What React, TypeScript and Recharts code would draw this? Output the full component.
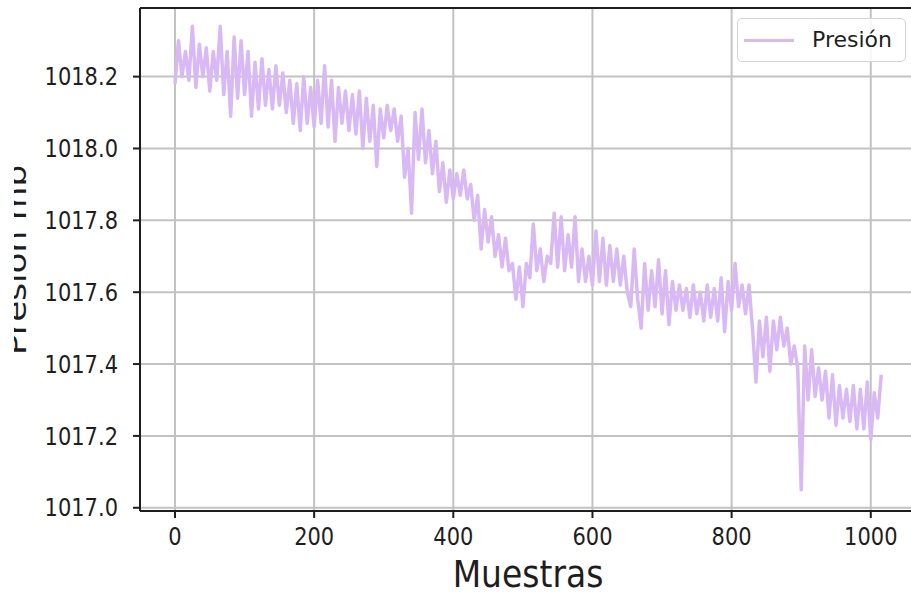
import {
  LineChart,
  Line,
  XAxis,
  YAxis,
  CartesianGrid,
  Legend,
  ReferenceLine,
} from "recharts";

// lecturas, una cada 5 muestras (la serie original tiene ~1015)
const STEP = 5;
const presion = [
  1018.18, 1018.3, 1018.2, 1018.27, 1018.19, 1018.34, 1018.17, 1018.29, 1018.2, 1018.28,
  1018.16, 1018.27, 1018.19, 1018.34, 1018.15, 1018.27, 1018.09, 1018.31, 1018.14, 1018.3,
  1018.15, 1018.27, 1018.09, 1018.24, 1018.11, 1018.25, 1018.12, 1018.22, 1018.11, 1018.23,
  1018.12, 1018.21, 1018.1, 1018.19, 1018.07, 1018.18, 1018.05, 1018.2, 1018.07, 1018.17,
  1018.06, 1018.19, 1018.07, 1018.23, 1018.06, 1018.19, 1018.02, 1018.17, 1018.07, 1018.16,
  1018.05, 1018.15, 1018.04, 1018.16, 1018.0, 1018.14, 1018.02, 1018.12, 1017.95, 1018.11,
  1018.03, 1018.12, 1018.05, 1018.11, 1018.02, 1018.09, 1017.92, 1018.0, 1017.82, 1018.1,
  1017.97, 1018.11, 1017.96, 1018.05, 1017.93, 1018.02, 1017.88, 1017.96, 1017.85, 1017.94,
  1017.86, 1017.93, 1017.87, 1017.94, 1017.86, 1017.9, 1017.8, 1017.87, 1017.72, 1017.83,
  1017.74, 1017.81, 1017.7, 1017.76, 1017.67, 1017.75, 1017.66, 1017.68, 1017.58, 1017.67,
  1017.56, 1017.68, 1017.64, 1017.79, 1017.66, 1017.72, 1017.63, 1017.7, 1017.68, 1017.82,
  1017.67, 1017.81, 1017.66, 1017.76, 1017.67, 1017.81, 1017.63, 1017.72, 1017.63, 1017.7,
  1017.62, 1017.77, 1017.63, 1017.75, 1017.62, 1017.73, 1017.63, 1017.72, 1017.62, 1017.7,
  1017.6, 1017.56, 1017.72, 1017.58, 1017.5, 1017.68, 1017.55, 1017.66, 1017.56, 1017.69,
  1017.54, 1017.66, 1017.51, 1017.63, 1017.55, 1017.62, 1017.55, 1017.61, 1017.53, 1017.62,
  1017.54, 1017.6, 1017.52, 1017.62, 1017.53, 1017.61, 1017.52, 1017.64, 1017.49, 1017.63,
  1017.55, 1017.68, 1017.56, 1017.62, 1017.54, 1017.62, 1017.5, 1017.35, 1017.52, 1017.42,
  1017.53, 1017.38, 1017.52, 1017.44, 1017.53, 1017.45, 1017.5, 1017.4, 1017.45, 1017.39,
  1017.05, 1017.45, 1017.3, 1017.44, 1017.31, 1017.39, 1017.3, 1017.38, 1017.25, 1017.37,
  1017.23, 1017.34, 1017.25, 1017.33, 1017.24, 1017.34, 1017.22, 1017.33, 1017.22, 1017.35,
  1017.19, 1017.32, 1017.25, 1017.37,
];

const xTicks = [0, 200, 400, 600, 800, 1000];
const yTicks = [1017.0, 1017.2, 1017.4, 1017.6, 1017.8, 1018.0, 1018.2];
const X_DOMAIN: [number, number] = [-50.3, 1065];
const Y_DOMAIN: [number, number] = [1016.991, 1018.391];

const data = presion.map((p, i) => ({ muestra: i * STEP, presion: p }));

const FONT = "'DejaVu Sans', sans-serif";
const INK = "#1e1e1e";
const LINE = "#d9b9f3";

function YTick({ x, y, payload }: any) {
  return (
    <text
      transform={`translate(${x},${y}) scale(1,1.15)`}
      textAnchor="end"
      dy="0.36em"
      fontSize={21}
      fontFamily={FONT}
      fill={INK}
    >
      {Number(payload.value).toFixed(1)}
    </text>
  );
}

function XTick({ x, y, payload }: any) {
  return (
    <text
      transform={`translate(${x},${y}) scale(1,1.15)`}
      textAnchor="middle"
      dy="0.71em"
      fontSize={21}
      fontFamily={FONT}
      fill={INK}
    >
      {payload.value}
    </text>
  );
}

function XLabel({ viewBox }: any) {
  const cx = viewBox.x + viewBox.width / 2;
  return (
    <text
      transform={`translate(${cx},${viewBox.y + 76}) scale(1,1.12)`}
      textAnchor="middle"
      fontSize={33}
      fontFamily={FONT}
      fill={INK}
    >
      Muestras
    </text>
  );
}

// the reference only shows the right-hand strip of the rotated label
function YLabel() {
  return (
    <g clipPath="url(#ylab-clip)">
      <defs>
        <clipPath id="ylab-clip">
          <rect x={14} y={0} width={120} height={594} />
        </clipPath>
      </defs>
      <text
        transform="translate(26,260) scale(1,1.18) rotate(-90)"
        textAnchor="middle"
        fontSize={29}
        fontFamily={FONT}
        fill={INK}
      >
        Presión mb
      </text>
    </g>
  );
}

function LegendBox() {
  return (
    <div
      style={{
        boxSizing: "border-box",
        width: 169,
        height: 44,
        border: "1px solid #d4d4d4",
        borderRadius: 5,
        background: "rgba(255,255,255,0.85)",
        display: "flex",
        alignItems: "center",
        fontFamily: FONT,
        fontSize: 22,
        color: INK,
      }}
    >
      <span
        style={{ display: "inline-block", width: 50, height: 3, background: LINE, marginLeft: 6, marginRight: 18 }}
      />
      <span style={{ lineHeight: 1 }}>Presión</span>
    </div>
  );
}

export default function App() {
  return (
    <div
      style={{
        position: "absolute",
        left: 0,
        top: 0,
        width: 911,
        height: 594,
        overflow: "hidden",
        background: "#fff",
      }}
    >
      <LineChart width={916} height={594} data={data} margin={{ top: 8, right: 0, left: 0, bottom: 0 }}>
        <CartesianGrid stroke="#c2c2c2" strokeWidth={2} />
        <XAxis
          dataKey="muestra"
          type="number"
          domain={X_DOMAIN}
          ticks={xTicks}
          allowDataOverflow
          height={83}
          tick={XTick}
          tickSize={7}
          tickMargin={10}
          stroke={INK}
          strokeWidth={2}
          label={{ content: XLabel }}
        />
        <YAxis
          type="number"
          domain={Y_DOMAIN}
          ticks={yTicks}
          allowDataOverflow
          width={140}
          tick={YTick}
          tickSize={7}
          tickMargin={15}
          stroke={INK}
          strokeWidth={2}
          label={{ content: YLabel }}
        />
        <ReferenceLine y={Y_DOMAIN[1]} stroke={INK} strokeWidth={2} />
        <Legend
          layout="horizontal"
          verticalAlign="middle"
          align="center"
          wrapperStyle={{ top: 18, left: 737, width: 169, height: 44 }}
          content={LegendBox}
        />
        <Line
          type="linear"
          dataKey="presion"
          name="Presión"
          stroke={LINE}
          strokeWidth={3.5}
          strokeLinejoin="round"
          dot={false}
          isAnimationActive={false}
        />
      </LineChart>
    </div>
  );
}
